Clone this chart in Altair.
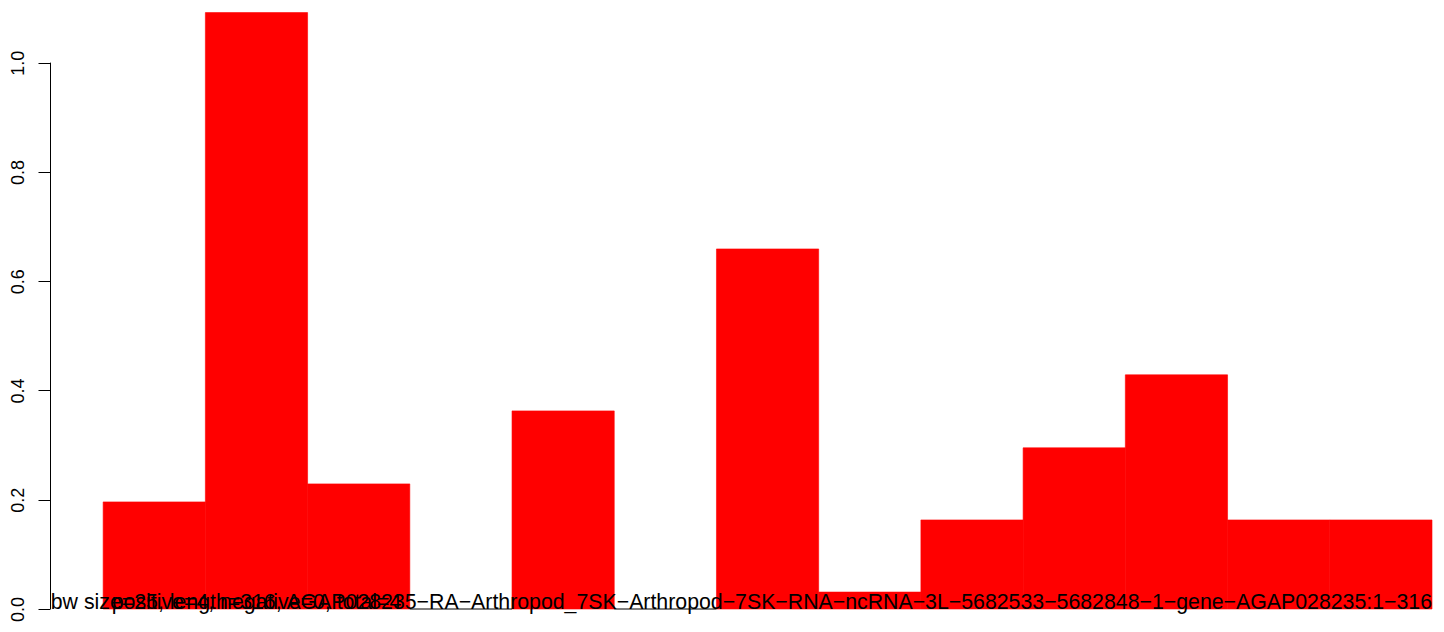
import altair as alt
import pandas as pd

bar_index = list(range(13))
bar_values = [0.196, 1.0916, 0.229, 0.0, 0.3626, 0.0, 0.659, 0.031, 0.163, 0.295, 0.4286, 0.163, 0.163]
y_ticks = [0.0, 0.2, 0.4, 0.6, 0.8, 1.0]
main_label = "bw size=25, length=316, AGAP028235\u2212RA\u2212Arthropod_7SK\u2212Arthropod\u22127SK\u2212RNA\u2212ncRNA\u22123L\u22125682533\u22125682848\u22121\u2212gene\u2212AGAP028235:1\u2212316"
second_label = "positive=4, negative=0, total=4"

XMIN, XMAX = -0.52, 13
FONT = "Liberation Sans"
TFS = 21.3

df = pd.DataFrame({"i": bar_index, "v": bar_values})
df["i2"] = df["i"] + 1
df["z"] = 0.0

xs = alt.Scale(domain=[XMIN, XMAX], nice=False, zero=False)
ys = alt.Scale(domain=[0, 1.1], nice=False)

bars = alt.Chart(df).transform_filter("datum.v > 0").mark_rect(
    color="#FF0000", stroke="#FF0000", strokeWidth=0.6
).encode(
    x=alt.X("i:Q", scale=xs, axis=None),
    x2="i2:Q",
    y=alt.Y("v:Q", scale=ys, axis=alt.Axis(
        values=y_ticks, format=".1f", title=None, grid=False, domain=False,
        tickSize=12, tickColor="black", tickWidth=1,
        labelAngle=-90, labelAlign="center", labelBaseline="bottom",
        labelPadding=11, labelFontSize=18, labelFont=FONT, labelColor="black",
    )),
    y2="z:Q",
)

zero_bars = alt.Chart(df).transform_filter("datum.v == 0").mark_rule(
    color="black", strokeWidth=1
).encode(
    x=alt.X("i:Q", scale=xs), x2="i2:Q", y=alt.Y("z:Q", scale=ys)
)

axis_line = alt.Chart(pd.DataFrame({"a": [y_ticks[0]], "b": [y_ticks[-1]]})).mark_rule(
    color="black", strokeWidth=1
).encode(x=alt.value(0.5), y=alt.Y("a:Q", scale=ys), y2="b:Q")

text_df = pd.DataFrame({"t": [main_label], "x": [XMAX], "y": [0.0]})
txt1 = alt.Chart(text_df).mark_text(
    align="right", baseline="alphabetic", font=FONT, fontSize=TFS, color="black"
).encode(x=alt.X("x:Q", scale=xs), y=alt.Y("y:Q", scale=ys), text="t:N")

text_df2 = pd.DataFrame({"t": [second_label], "x": [1.5], "y": [0.0]})
txt2 = alt.Chart(text_df2).mark_text(
    align="center", baseline="alphabetic", font=FONT, fontSize=TFS, color="black"
).encode(x=alt.X("x:Q", scale=xs), y=alt.Y("y:Q", scale=ys), text="t:N")

chart = alt.layer(bars, zero_bars, axis_line, txt1, txt2).properties(
    width=1382, height=601,
    padding={"left": 0, "top": 0, "right": 0, "bottom": 0},
    background="white",
).configure_view(stroke=None, strokeWidth=0)

chart.save("out.html", embed_options={"renderer": "svg", "actions": False})
